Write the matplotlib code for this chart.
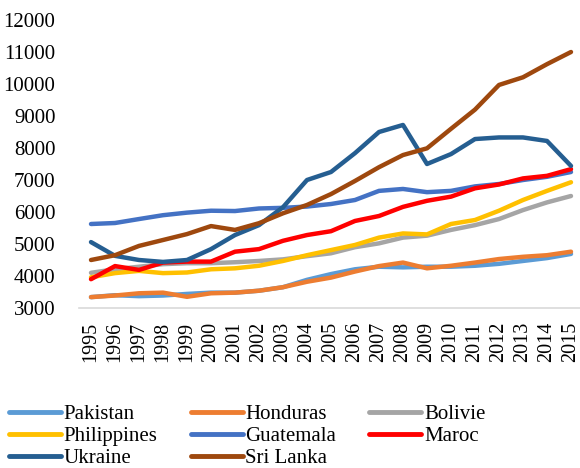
import matplotlib.pyplot as plt

# --- DATA ---
years = list(range(1995, 2016))
pakistan = [3340, 3400, 3370, 3390, 3440, 3480, 3480, 3540, 3650, 3880, 4060,
            4210, 4290, 4270, 4290, 4290, 4320, 4380, 4470, 4560, 4690]
honduras = [3340, 3390, 3460, 3480, 3350, 3460, 3480, 3540, 3650, 3820, 3950,
            4140, 4310, 4420, 4240, 4320, 4420, 4530, 4600, 4650, 4760]
bolivie = [4100, 4210, 4290, 4370, 4400, 4400, 4430, 4470, 4520, 4620, 4710,
           4900, 5020, 5200, 5260, 5440, 5590, 5780, 6060, 6300, 6500]
philippines = [3960, 4090, 4160, 4090, 4110, 4210, 4240, 4320, 4470, 4650, 4810,
               4970, 5200, 5330, 5300, 5625, 5750, 6040, 6375, 6660, 6930]
guatemala = [5625, 5656, 5780, 5900, 5980, 6040, 6030, 6110, 6130, 6170, 6250,
             6375, 6660, 6720, 6620, 6660, 6800, 6875, 7000, 7100, 7250]
maroc = [3900, 4310, 4190, 4420, 4450, 4450, 4760, 4840, 5100, 5280, 5400,
         5720, 5875, 6160, 6350, 6480, 6740, 6860, 7050, 7130, 7340]
ukraine = [5060, 4630, 4500, 4440, 4500, 4840, 5280, 5590, 6150, 7000, 7250,
           7840, 8500, 8720, 7500, 7810, 8280, 8330, 8330, 8220, 7440]
sri_lanka = [4500, 4650, 4940, 5125, 5310, 5560, 5440, 5650, 5960, 6220, 6560,
             6970, 7400, 7780, 7990, 8600, 9200, 9970, 10210, 10620, 11000]

series = [
    ("Pakistan", pakistan, "#5B9BD5"),
    ("Honduras", honduras, "#ED7D31"),
    ("Bolivie", bolivie, "#A5A5A5"),
    ("Philippines", philippines, "#FFC000"),
    ("Guatemala", guatemala, "#4472C4"),
    ("Maroc", maroc, "#FF0000"),
    ("Ukraine", ukraine, "#255E91"),
    ("Sri Lanka", sri_lanka, "#9E480E"),
]

plt.rcParams['font.family'] = ['Liberation Serif', 'DejaVu Serif']

fig = plt.figure(figsize=(5.8, 4.68), dpi=100)
ax = fig.add_axes([79 / 580, (468 - 308) / 468, 504 / 580, 288 / 468])

x = list(range(len(years)))
handles = []
for name, vals, color in series:
    h, = ax.plot(x, vals, color=color, linewidth=3.2, label=name,
                 solid_capstyle='round', solid_joinstyle='round')
    handles.append(h)

ax.set_xlim(-0.5, len(years) - 0.5)
ax.set_ylim(3000, 12000)
ax.set_yticks(range(3000, 12001, 1000))
ax.set_xticks(x)
ax.set_xticklabels([str(y) for y in years], rotation=90, fontsize=14.5)
ax.tick_params(axis='y', labelsize=15, length=0, pad=17)
ax.tick_params(axis='x', length=0, pad=10)

for s in ['top', 'right', 'left']:
    ax.spines[s].set_visible(False)
ax.spines['bottom'].set_color('#D9D9D9')
ax.spines['bottom'].set_linewidth(1.2)

# legende i raekkefoelge raekke for raekke (matplotlib fylder kolonnevis)
order = [0, 3, 6, 1, 4, 7, 2, 5]
leg = fig.legend([handles[i] for i in order], [series[i][0] for i in order],
                 loc='upper left', bbox_to_anchor=(0.008, 0.145), ncol=3,
                 frameon=False, fontsize=15, handlelength=2.5,
                 handletextpad=0.12, columnspacing=1.6, labelspacing=0.12,
                 borderaxespad=0, borderpad=0.2)
for line in leg.get_lines():
    line.set_linewidth(3.5)

fig.savefig("out.png", dpi=100)
